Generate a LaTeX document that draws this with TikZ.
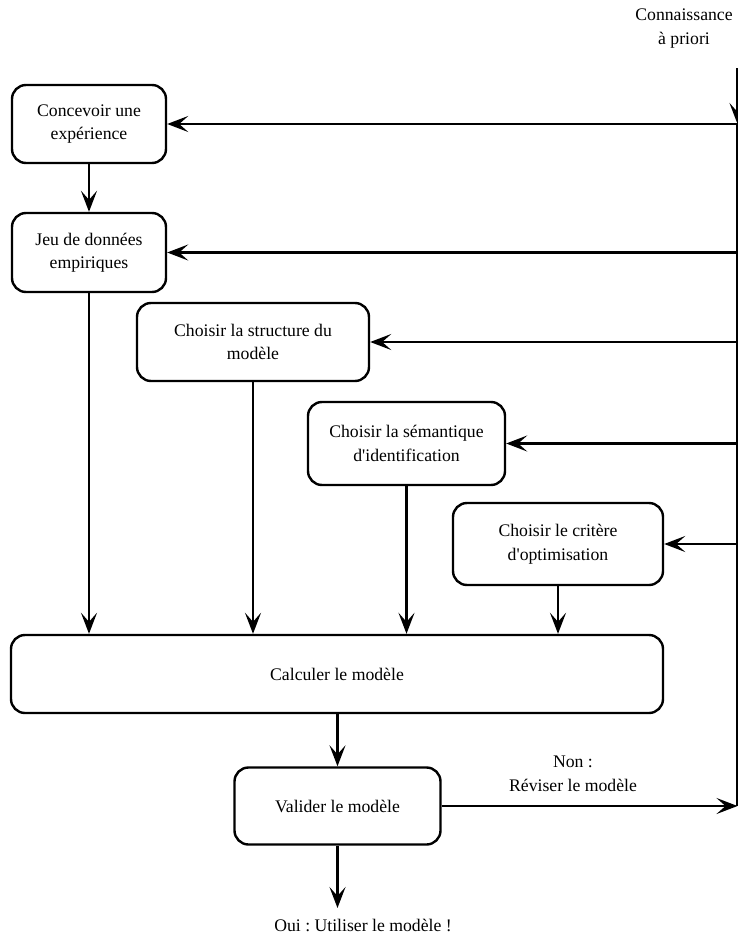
\documentclass[tikz,border=0pt]{standalone}
\usepackage{fontspec}
\setmainfont{Liberation Serif}
\usetikzlibrary{arrows.meta}
\frenchspacing
\begin{document}
\begin{tikzpicture}[x=1pt,y=-1pt,
  box/.style={draw, rounded corners=14pt, line width=2.4pt, align=center, inner sep=0pt,
    font=\fontsize{17.7}{23.5}\selectfont},
  lbl/.style={align=center, inner sep=0pt, font=\fontsize{17.7}{23.5}\selectfont},
  arr/.style={-{Stealth[length=21pt,width=16pt,inset=9pt]}, line width=2.4pt},
  ln/.style={line width=2.4pt}]
\useasboundingbox (0,0) rectangle (738,936);
\node[box, minimum width=154pt, minimum height=78pt] (c1) at (89,124) {Concevoir une\\expérience};
\node[box, minimum width=154pt, minimum height=79pt] (c2) at (89,252.5) {Jeu de données\\empiriques};
\node[box, minimum width=232pt, minimum height=78pt] (c3) at (253,342) {Choisir la structure du\\modèle};
\node[box, minimum width=197pt, minimum height=83pt] (c4) at (406.5,443.5) {Choisir la sémantique\\d\textquotesingle identification};
\node[box, minimum width=210pt, minimum height=82pt] (c5) at (558,544) {Choisir le critère\\d\textquotesingle optimisation};
\node[box, minimum width=652pt, minimum height=78pt] (calc) at (337,674) {Calculer le modèle};
\node[box, minimum width=206pt, minimum height=77pt] (val) at (337.5,806) {Valider le modèle};
\node[lbl] (know) at (684,28.5) {Connaissance\\à priori};
\node[lbl] (non) at (573,774) {Non :\\Réviser le modèle};
\node[lbl] (oui) at (363,925) {Oui : Utiliser le modèle !};
\coordinate (rt) at (737.5,68);
\coordinate (rb) at (737.5,806);
\coordinate (oend) at (337.5,908);
% right feedback line
\draw[arr] (rt) -- (c1.east -| rt);
\draw[ln] (c1.east -| rt) -- (rb);
\draw[arr] (c1.east -| rt) -- (c1.east);
\draw[arr] (c2.east -| rt) -- (c2.east);
\draw[arr] (c3.east -| rt) -- (c3.east);
\draw[arr] (c4.east -| rt) -- (c4.east);
\draw[arr] (c5.east -| rt) -- (c5.east);
% vertical flow
\draw[arr] (c1.south) -- (c2.north);
\draw[arr] (c2.south) -- (c2.south |- calc.north);
\draw[arr] (c3.south) -- (c3.south |- calc.north);
\draw[arr] (c4.south) -- (c4.south |- calc.north);
\draw[arr] (c5.south) -- (c5.south |- calc.north);
\draw[arr] (calc.south -| val.north) -- (val.north);
\draw[arr] (val.east) -- (rb);
\draw[arr] (val.south) -- (oend);
\end{tikzpicture}
\end{document}
